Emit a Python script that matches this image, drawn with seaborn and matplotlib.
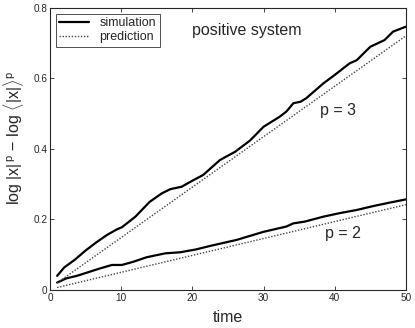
import numpy as np
import pandas as pd
import matplotlib
matplotlib.use("Agg")
import matplotlib.pyplot as plt
import seaborn as sns

# simulation, p = 3
t_sim3 = [1, 2, 3.5, 5, 6.5, 8, 9.4, 10.1, 12, 14, 15.7, 16.9, 18.5, 20, 21.5, 23.9,
          26, 28.1, 30, 32.3, 33.2, 34.2, 35.2, 36, 38.4, 40, 42.1, 43.1, 45, 47, 48.2, 50]
v_sim3 = [0.040, 0.064, 0.086, 0.112, 0.135, 0.156, 0.172, 0.178, 0.208, 0.250, 0.274,
          0.286, 0.293, 0.310, 0.326, 0.369, 0.392, 0.424, 0.463, 0.492, 0.506, 0.530,
          0.534, 0.544, 0.586, 0.610, 0.643, 0.652, 0.690, 0.709, 0.733, 0.747]

# simulation, p = 2
t_sim2 = [1, 2.3, 3.75, 5.15, 7, 8.7, 10.1, 11.7, 13.6, 16.2, 18.3, 20.5, 22.5, 26.2,
          30, 33.2, 34.2, 35.8, 38.4, 40.7, 43.1, 45.4, 47.75, 50]
v_sim2 = [0.021, 0.033, 0.040, 0.049, 0.061, 0.071, 0.071, 0.080, 0.093, 0.104, 0.107,
          0.115, 0.125, 0.142, 0.165, 0.180, 0.189, 0.194, 0.208, 0.218, 0.227, 0.238,
          0.248, 0.257]

# predictions (straight lines, end points)
t_pred = [1, 50]
v_pred3 = [0.020, 0.721]
v_pred2 = [0.007, 0.242]

x_ticks = [0, 10, 20, 30, 40, 50]
y_ticks = [0, 0.2, 0.4, 0.6, 0.8]

sns.set_style("ticks")
plt.rcParams['font.family'] = ['Liberation Sans', 'DejaVu Sans']
plt.rcParams['mathtext.fontset'] = 'custom'
plt.rcParams['mathtext.rm'] = 'Liberation Sans'
plt.rcParams['mathtext.it'] = 'Liberation Sans'

fig = plt.figure(figsize=(4.15, 3.28), dpi=100)
ax = fig.add_axes([0.1205, 0.1159, 0.8575, 0.8597])

sim3 = pd.DataFrame({"time": t_sim3, "value": v_sim3})
sim2 = pd.DataFrame({"time": t_sim2, "value": v_sim2})
pred3 = pd.DataFrame({"time": t_pred, "value": v_pred3})
pred2 = pd.DataFrame({"time": t_pred, "value": v_pred2})

sns.lineplot(data=sim3, x="time", y="value", ax=ax, color="black", lw=1.6, label="simulation")
sns.lineplot(data=sim2, x="time", y="value", ax=ax, color="black", lw=1.6)
sns.lineplot(data=pred3, x="time", y="value", ax=ax, color="#444444", lw=1.0,
             linestyle=(0, (1, 1.2)), label="prediction")
sns.lineplot(data=pred2, x="time", y="value", ax=ax, color="#444444", lw=1.0,
             linestyle=(0, (1, 1.2)))

ax.set_xlim(0, 50)
ax.set_ylim(0, 0.8)
ax.set_xticks(x_ticks)
ax.set_xticklabels([str(v) for v in x_ticks])
ax.set_yticks(y_ticks)
ax.set_yticklabels(["0", "0.2", "0.4", "0.6", "0.8"])
ax.tick_params(direction="in", top=True, right=True, labelsize=7.2, length=3, width=0.6, pad=2)
for s in ax.spines.values():
    s.set_linewidth(0.8)

ax.set_xlabel("time", fontsize=11.5, labelpad=5)
ax.set_ylabel(r"log $|\mathrm{x}|^{\,\mathrm{p}}$ $-$ log $\langle|\mathrm{x}|\rangle^{\mathrm{p}}$",
              fontsize=11.5)
ax.yaxis.set_label_coords(-0.068, 0.54)

leg = ax.legend(loc="upper left", fontsize=9, frameon=True, fancybox=False,
                edgecolor="black", handlelength=2.4, borderpad=0.3, labelspacing=0.15,
                borderaxespad=0.45)
leg.get_frame().set_linewidth(0.6)

ax.text(0.40, 0.905, "positive system", transform=ax.transAxes, fontsize=11.5)
ax.text(40.4, 0.51, "p = 3", fontsize=11.5, ha="center", va="center")
ax.text(41.2, 0.159, "p = 2", fontsize=11.5, ha="center", va="center")

fig.savefig("out.png", dpi=100)
